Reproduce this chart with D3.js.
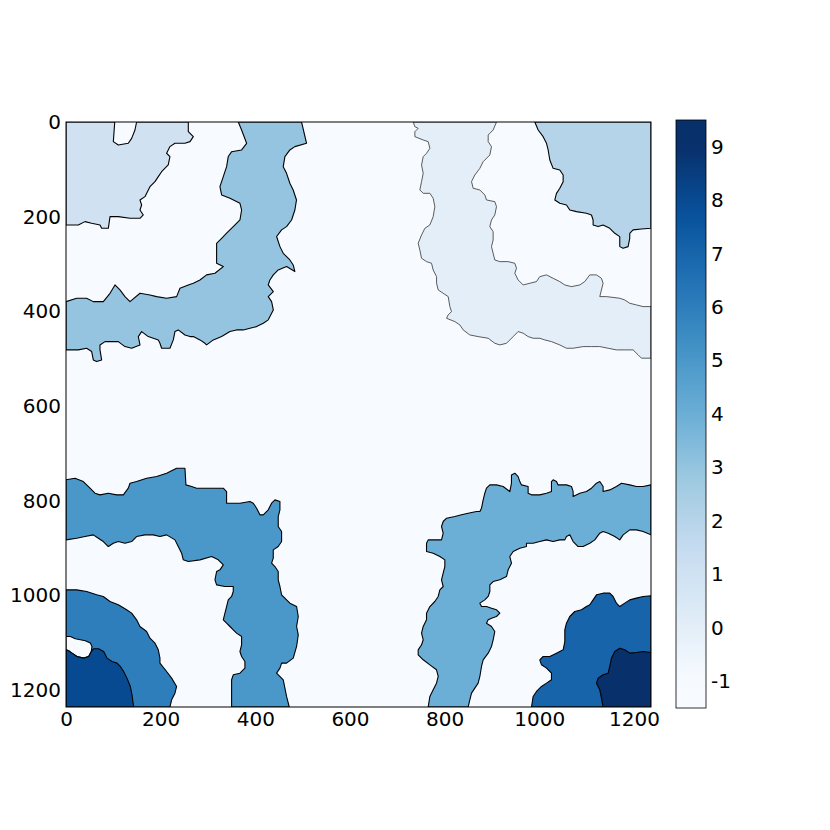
<!DOCTYPE html>
<html>
<head>
<meta charset="utf-8">
<script src="https://cdn.jsdelivr.net/npm/d3@7"></script>
<style>
body { margin: 0; background: #fff; }
text { font-family: "DejaVu Sans", sans-serif; }
</style>
</head>
<body>
<div id="chart"></div>
<script>
// image size (pixels of the label map) and ticks
var imgSize = 1236;
var xTicks = [0, 200, 400, 600, 800, 1000, 1200];
var yTicks = [0, 200, 400, 600, 800, 1000, 1200];
var cbarTicks = [-1, 0, 1, 2, 3, 4, 5, 6, 7, 8, 9];
var cbarRange = [-1.5, 9.5];
var labelRange = [-1, 9];
var backgroundValue = -1;
var bluesColors = ['#f7fbff', '#deebf7', '#c6dbef', '#9ecae1', '#6baed6', '#4292c6', '#2171b5', '#08519c', '#08306b'];

// region boundaries (image coordinates)
var r1Edge = [[103,0],[100,41.5],[110.5,48.6],[131.6,45],[138.7,34.5],[145.7,16.9],[149.2,0],
	[258.4,0],[258.4,20.4],[269,31],[262,41.5],[251.3,45],[230.2,45],[219.6,52],[212.6,66],[219.6,73],
	[216,90.8],[202,105],[195,115.5],[188,126],[177.4,136.6],[166.8,157.7],[156.3,164.7],[159.8,175.3],
	[156.3,185.9],[163.3,196.4],[156.3,203.5],[135.2,203.5],[110.5,200],[93,200],[89.4,224.6],[75.3,224.6],
	[71.8,217.5],[54.2,214],[40,210.5],[26,217.5],[0,217.5]];

var r3Inner = [[364,0],[371,17],[381.6,45],[371,59],[350,62.7],[342.8,73],[339.3,94.3],[332.3,115.5],
	[325.2,136.6],[328.8,154.2],[346.4,161.2],[367.5,171.8],[371,185.9],[367.5,207],[353.4,221],[339.3,235],
	[328.8,245.7],[318.2,256.3],[318.2,277.4],[318.2,298.5],[332.3,305.5],[314.7,319.6],[297,323],
	[283,333.7],[269,340.7],[258.4,344.3],[240.8,351.3],[233.7,369],[212.6,372.4],[191.5,369],[177.4,365.4],
	[156.3,361.9],[135.2,379.5],[124.6,369],[114,354.8],[103.5,344.3],[93,361.9],[78.8,379.5],[57.7,379.5],
	[43.6,372.4],[22.5,372.4],[0,379.5]];
var r3Outer = [[497.7,0],[508.3,45],[483.6,52],[473,59],[462.5,73.2],[459,94.3],[466,108.4],[473,129.5],
	[480,143.6],[487,164.7],[483.6,185.9],[476.6,207],[466,221],[455.5,228],[445,242],[452,263.3],
	[459,277.4],[473,291.5],[480,302],[483.6,316],[466,305.5],[448.4,312.6],[438,323],[430.8,333.7],
	[427.3,344.3],[438,358.3],[427.3,369],[434.4,379.5],[438,397],[427.3,418],[416.8,425.2],[402.7,432.3],
	[388.6,435.8],[374.5,439.3],[360.4,439.3],[346.4,442.8],[328.8,453.4],[311.2,460.4],[297,471],
	[293.6,467.5],[283,460.4],[269,453.4],[262,453.4],[251.3,449.9],[237.2,439.3],[230.2,442.8],
	[226.7,460.4],[219.6,478],[202,478],[198.5,467.5],[195,460.4],[173.9,453.4],[159.8,442.8],[152.8,453.4],
	[156.3,471],[138.7,478],[124.6,474.5],[110.5,464],[96.4,464],[82.4,464],[71.8,471],[71.8,481.5],
	[75.3,502.7],[64.8,506.2],[57.7,502.7],[54.2,485],[43.6,478],[26,481.5],[0,481.5]];

var r2Edge = [[990.5,0],[997.6,16.9],[1008.1,31],[1015.2,45],[1018.7,59.1],[1022.2,80.3],[1029.2,97.9],
	[1043.3,101.4],[1050.4,112],[1050.4,126],[1043.3,140],[1036.3,150.7],[1032.8,164.7],[1043.3,171.8],
	[1057.4,175.3],[1064.4,185.9],[1078.5,189.4],[1099.6,192.9],[1110.2,196.4],[1113.7,207],[1113.7,217.5],
	[1124.3,221],[1134.8,217.5],[1148.9,224.6],[1159.5,235.1],[1170,242.2],[1170,263.3],[1177,266.8],
	[1187.6,263.3],[1191.1,245.7],[1191.1,235.1],[1198.2,228],[1215.8,226],[1236,224.6]];

var r0Inner = [[909.6,0],[902.5,16.9],[892,27.5],[892,41.5],[899,52],[895.5,69.7],[881.4,83.8],[874.4,97.9],
	[863.8,112],[856.8,126],[860.3,140],[874.4,143.6],[885,154.2],[888.4,164.7],[906,168.3],[909.6,178.8],
	[906,196.4],[899,207],[895.5,221],[902.5,231.6],[902.5,249.2],[899,263.3],[902.5,277.4],[906,291.5],
	[916.6,295],[934.2,295],[948.3,298.5],[951.8,309],[948.3,319.6],[955.3,333.7],[965.9,344.3],[980,340.7],
	[994,337.2],[1001,326.7],[1015.2,323],[1029.2,330.2],[1043.3,337.2],[1053.9,344.3],[1068,347.8],
	[1085.5,344.3],[1096,337.2],[1106.7,323],[1120.8,323],[1131.3,330.2],[1134.8,340.7],[1131.3,354.8],
	[1127.8,368.9],[1141.9,368.9],[1170,372.4],[1180.6,376],[1191.1,383],[1205.2,386.5],[1219.3,390],
	[1236,390]];
var r0Outer = [[733.6,0],[737.1,9.9],[744.1,13.4],[737.1,20.4],[737.1,31],[754.7,38],[765.2,41.5],
	[768.8,55.6],[761.7,66.2],[754.7,73.2],[751.2,90.8],[754.7,108.4],[751.2,126],[747.6,143.6],[754.7,150.7],
	[768.8,150.7],[775.8,161.2],[779.3,178.8],[775.8,200],[768.8,217.5],[758.2,224.6],[751.2,238.7],
	[744.1,256.3],[747.6,270.3],[751.2,288],[761.7,295],[772.3,298.5],[775.8,312.6],[782.9,326.7],
	[782.9,340.7],[786.4,354.8],[796.9,361.9],[807.5,368.9],[811,390],[814.5,400.6],[807.5,407.6],
	[804,414.7],[821.6,421.7],[832.1,428.7],[839.2,439.3],[853.2,449.9],[870.8,453.4],[892,456.9],
	[906,467.5],[916.6,471],[930.7,467.5],[944.8,453.4],[955.3,442.8],[965.9,446.3],[976.4,453.4],
	[987,456.9],[1001,456.9],[1011.6,460.4],[1025.7,464],[1043.3,471],[1057.4,478],[1071.5,478],
	[1092.6,474.5],[1110.2,474.5],[1127.8,474.5],[1145.4,478],[1163,481.5],[1180.6,481.5],[1198.2,481.5],
	[1208.8,492],[1215.8,499],[1236,499]];

var r5Outer = [[0,756],[19,752.6],[36.6,759.7],[50.7,773.7],[61.2,784.3],[71.8,787.8],[89.4,784.3],
	[107,787.8],[121.1,787.8],[131.6,773.7],[135.2,763.2],[149.2,759.7],[170.4,752.6],[191.5,749.1],
	[212.6,742],[233.7,731.5],[251.3,731.5],[253.4,766.7],[265.4,770.2],[276,773.7],[297,773.7],
	[321.7,773.7],[332.3,773.7],[339.3,780.8],[339.3,805.4],[367.5,805.4],[388.6,801.9],[395.6,805.4],
	[402.7,816],[409.7,830],[416.8,830],[427.3,819.5],[434.4,805.4],[441.4,798.4],[452,801.9],[452,819.5],
	[448.4,833.6],[448.4,854.7],[455.5,865.3],[455.5,886.4],[448.4,897],[437.9,904],[437.9,921.6],
	[434.4,932.1],[441.4,939.2],[448.4,949.7],[448.4,967.3],[452,981.4],[455.5,999],[473,1016.6],
	[487.2,1023.7],[490.7,1044.8],[487.2,1065.9],[490.7,1083.5],[487.2,1108.1],[480.1,1132.8],[466,1143.3],
	[455.5,1143.3],[452,1153.9],[444.9,1164.5],[459,1178.5],[462.5,1196.1],[466,1213.7],[471.7,1236]];
var r5Inner = [[0,882.9],[22.5,879.3],[40.1,875.8],[57.7,872.3],[68.3,879.3],[78.8,886.4],[89.4,897],
	[100,889.9],[110.5,886.4],[124.6,889.9],[138.7,886.4],[149.2,875.8],[166.8,872.3],[184.4,872.3],
	[198.5,875.8],[212.6,872.3],[230.2,882.9],[237.2,897],[244.3,911],[247.8,925.1],[258.4,928.6],
	[283,925.1],[307.6,918.1],[321.7,925.1],[332.3,935.7],[325.2,946.2],[318.2,949.7],[314.7,967.3],
	[318.2,977.9],[335.8,981.4],[353.4,981.4],[353.4,992],[349.9,1002.5],[342.8,1009.6],[339.3,1023.7],
	[335.8,1037.7],[332.3,1051.8],[339.3,1058.9],[346.4,1065.9],[353.4,1073],[360.4,1080],[371,1087],
	[371,1104.6],[367.5,1118.7],[371,1129.3],[378,1139.8],[378,1153.9],[367.5,1164.5],[353.4,1168],
	[349.9,1178.5],[349.9,1206.7],[349.9,1236]];

var r6Edge = [[0,988.5],[22.5,988.5],[43.6,992],[64.8,999],[78.8,1002.5],[93,1013.1],[110.5,1020.1],
	[128.1,1030.7],[138.7,1037.7],[149.2,1051.8],[156.3,1065.9],[170.4,1076.5],[177.4,1090.5],[188,1101.1],
	[195,1115.2],[198.5,1132.8],[198.5,1143.3],[212.6,1161],[223.2,1175],[233.7,1192.6],[230.2,1206.7],
	[223.2,1220.8],[219.6,1236]];
var pocketEdge = [[0,1087],[9.2,1087],[19.7,1091.9],[30.3,1094],[40.8,1096.1],[51.4,1101],[54.9,1108],
	[53.5,1118.6],[47.9,1129.2],[37.3,1132.7],[23.2,1129.2],[12.7,1122.1],[5.6,1117.2],[0,1115.1]];
var r8Edge = [[0,1115.1],[5.6,1117.2],[12.7,1122.1],[23.2,1129.2],[37.3,1132.7],[47.9,1129.2],[53.5,1118.6],
	[58.4,1113],[69,1113],[79.6,1118.6],[86.6,1132.7],[97.2,1139.7],[107.7,1143.3],[114.8,1150.3],
	[121.8,1160.9],[128.8,1175],[135.9,1192.6],[139.4,1210.1],[142.9,1236]];

var r4Outer = [[765.2,1236],[768.8,1213.7],[775.8,1199.6],[782.8,1185.6],[786.4,1171.5],[782.8,1157.4],
	[768.8,1146.9],[754.7,1136.3],[744.1,1125.7],[744.1,1115.2],[751.2,1104.6],[754.7,1094],[751.2,1080],
	[754.7,1065.9],[761.7,1051.8],[761.7,1037.7],[768.8,1023.7],[779.3,1013.1],[786.4,1002.5],[789.9,988.5],
	[796.9,981.4],[793.4,967.3],[796.9,953.3],[800.4,939.2],[800.4,925.1],[789.9,918.1],[775.8,911],
	[761.7,907.5],[761.7,889.9],[765.2,882.9],[779.3,882.9],[793.4,882.9],[796.9,868.8],[793.4,854.7],
	[796.9,844.1],[804,837.1],[821.6,833.6],[835.6,830],[849.7,826.5],[867.3,823],[874.4,823],[877.9,816],
	[881.4,798.4],[884.9,784.3],[888.4,773.7],[895.5,766.7],[909.6,766.7],[923.6,770.2],[937.7,780.8],
	[941.2,763.2],[941.2,745.6],[948.3,742],[955.3,749.1],[958.8,759.7],[962.4,766.7],[976.4,770.2],
	[976.4,784.3],[983.5,787.8],[1001,787.8],[1015.2,784.3],[1025.7,780.8],[1025.7,759.7],[1029.2,756.1],
	[1036.3,759.7],[1039.8,766.7],[1057.4,766.7],[1068,770.2],[1071.5,780.8],[1071.5,791.3],[1085.6,784.3],
	[1099.6,780.8],[1110.2,773.7],[1120.8,763.2],[1127.8,759.7],[1134.8,770.2],[1134.8,780.8],[1148.9,777.3],
	[1163,770.2],[1173.6,763.2],[1191.1,766.7],[1205.2,770.2],[1219.3,770.2],[1236,766.7]];
var r4Inner = [[849.7,1236],[853.2,1220.8],[856.8,1206.7],[863.8,1196.1],[870.8,1185.6],[874.4,1171.5],
	[877.9,1150.4],[881.4,1136.3],[892,1122.2],[899,1108.1],[902.5,1094],[906,1076.5],[899,1065.9],
	[888.4,1058.9],[892,1051.8],[899,1048.3],[909.6,1044.8],[916.6,1037.7],[909.6,1030.7],[899,1027.2],
	[888.4,1023.7],[877.9,1023.7],[874.4,1016.6],[884.9,1009.6],[892,1002.5],[895.5,992],[895.5,977.9],
	[902.5,970.9],[916.6,967.3],[930.7,960.3],[934.2,946.2],[941.2,932.1],[937.7,918.1],[944.8,907.5],
	[958.8,900.5],[972.9,897],[972.9,889.9],[987,889.9],[1001,886.4],[1015.2,882.9],[1029.2,886.4],
	[1043.3,882.9],[1053.9,882.9],[1057.4,875.8],[1064.4,872.3],[1071.5,886.4],[1082,897],[1092.6,897],
	[1106.7,889.9],[1117.2,882.9],[1127.8,868.8],[1134.8,865.3],[1145.4,868.8],[1159.5,875.8],[1170,882.9],
	[1177.1,872.3],[1191.1,861.7],[1205.2,861.7],[1219.3,865.3],[1236,872.3]];

var r7Edge = [[983.5,1236],[987,1213.7],[994,1203.2],[1004.6,1192.6],[1015.2,1185.6],[1025.7,1178.5],
	[1025.7,1164.5],[1015.2,1153.9],[1004.6,1146.9],[1001,1136.3],[1008.1,1129.3],[1022.2,1129.3],
	[1036.3,1122.2],[1050.4,1115.2],[1053.9,1097.6],[1053.9,1073],[1057.4,1058.9],[1064.4,1044.8],
	[1075,1034.2],[1089.1,1030.7],[1099.6,1023.7],[1106.7,1020.1],[1113.7,1009.6],[1120.8,999],
	[1134.8,995.5],[1148.9,995.5],[1156,1002.5],[1163,1016.6],[1170,1023.7],[1180.6,1016.6],[1191.1,1009.6],
	[1205.2,1006],[1219.3,1002.5],[1236,1001.1]];
var r9Edge = [[1134.8,1236],[1131.3,1217.3],[1127.8,1199.6],[1120.8,1185.6],[1124.3,1175],[1134.8,1168],
	[1145.4,1164.5],[1148.9,1150.4],[1152.4,1132.8],[1159.5,1118.7],[1170,1111.7],[1180.6,1115.2],
	[1191.1,1122.2],[1205.2,1120.8],[1219.3,1118.7],[1236,1120.8]];

//Regions: label value and outline, in drawing order
var regions = [
	{ value: 1, outline: [[0,0]].concat(r1Edge) },
	{ value: 3, outline: r3Inner.concat(r3Outer.slice().reverse()) },
	{ value: 2, outline: r2Edge.concat([[imgSize,0]]) },
	{ value: 0, outline: r0Inner.concat(r0Outer.slice().reverse()) },
	{ value: 5, outline: r5Outer.concat(r5Inner.slice().reverse()) },
	{ value: 6, outline: r6Edge.concat([[0,imgSize]]) },
	{ value: -1, outline: pocketEdge },
	{ value: 8, outline: r8Edge.concat([[0,imgSize]]) },
	{ value: 4, outline: r4Outer.concat(r4Inner.slice().reverse()) },
	{ value: 7, outline: r7Edge.concat([[imgSize,imgSize]]) },
	{ value: 9, outline: r9Edge.concat([[imgSize,imgSize]]) }
];

//SVG setup
var margin = { top: 122, left: 66 };
var plotSize = 585;
var fontSize = 20;
var svg = d3.select('#chart')
	.append('svg')
	.attr('width', 830)
	.attr('height', 830);
var g = svg.append('g')
	.attr('transform', 'translate(' + margin.left + ',' + margin.top + ')');

//Scales
var x = d3.scaleLinear().domain([0, imgSize]).range([0, plotSize]);
var y = d3.scaleLinear().domain([0, imgSize]).range([0, plotSize]);
//matplotlib-like Blues: linear through the 9 colour stops, clamped to the label range
var blues = d3.scaleLinear()
	.domain(d3.range(bluesColors.length).map(function(i) { return i / (bluesColors.length - 1); }))
	.range(bluesColors)
	.interpolate(d3.interpolateRgb)
	.clamp(true);
var color = function(v) {
	return blues((v - labelRange[0]) / (labelRange[1] - labelRange[0]));
};

svg.append('defs').append('clipPath')
	.attr('id', 'plotClip')
	.append('rect')
	.attr('width', plotSize)
	.attr('height', plotSize);

var plot = g.append('g').attr('clip-path', 'url(#plotClip)');

//background label
plot.append('rect')
	.attr('width', plotSize)
	.attr('height', plotSize)
	.attr('fill', color(backgroundValue));

var line = d3.line()
	.x(function(d) { return x(d[0]); })
	.y(function(d) { return y(d[1]); });

plot.selectAll('.region')
	.data(regions)
	.enter()
	.append('path')
	.attr('class', 'region')
	.attr('d', function(d) { return line(d.outline) + 'Z'; })
	.attr('fill', function(d) { return color(d.value); })
	.attr('stroke', function(d) { return d.value === 0 ? '#333' : '#000'; })
	.attr('stroke-width', function(d) { return d.value === 0 ? 0.8 : 1.1; })
	.attr('stroke-linejoin', 'round');

//frame
g.append('rect')
	.attr('width', plotSize)
	.attr('height', plotSize)
	.attr('fill', 'none')
	.attr('stroke', '#000')
	.attr('stroke-width', 1);

//Axes
var plain = function(d) { return String(d); };
g.append('g')
	.attr('class', 'x axis')
	.attr('transform', 'translate(0,' + plotSize + ')')
	.call(d3.axisBottom(x).tickValues(xTicks).tickFormat(plain).tickSize(0).tickPadding(5));
g.append('g')
	.attr('class', 'y axis')
	.call(d3.axisLeft(y).tickValues(yTicks).tickFormat(plain).tickSize(0).tickPadding(5));
g.selectAll('.axis .domain').remove();
g.selectAll('.axis text')
	.attr('font-family', '"DejaVu Sans", sans-serif')
	.attr('font-size', fontSize)
	.attr('fill', '#000');

//Colorbar
var cbar = { x: 676, top: 120, width: 30, height: 588 };
var grad = svg.select('defs').append('linearGradient')
	.attr('id', 'cbarGrad')
	.attr('x1', 0).attr('y1', 1).attr('x2', 0).attr('y2', 0);
d3.range(0, 1.0001, 0.025).forEach(function(t) {
	var v = cbarRange[0] + t * (cbarRange[1] - cbarRange[0]);
	grad.append('stop')
		.attr('offset', t)
		.attr('stop-color', color(v));
});
var cy = d3.scaleLinear().domain(cbarRange).range([cbar.height, 0]);
var cg = svg.append('g')
	.attr('transform', 'translate(' + cbar.x + ',' + cbar.top + ')');
cg.append('rect')
	.attr('width', cbar.width)
	.attr('height', cbar.height)
	.attr('fill', 'url(#cbarGrad)')
	.attr('stroke', '#000')
	.attr('stroke-width', 0.8);
var cAxis = cg.append('g')
	.attr('transform', 'translate(' + cbar.width + ',0)')
	.call(d3.axisRight(cy).tickValues(cbarTicks).tickFormat(plain).tickSize(0).tickPadding(5));
cAxis.select('.domain').remove();
cAxis.selectAll('text')
	.attr('font-family', '"DejaVu Sans", sans-serif')
	.attr('font-size', fontSize)
	.attr('fill', '#000');
</script>
</body>
</html>
